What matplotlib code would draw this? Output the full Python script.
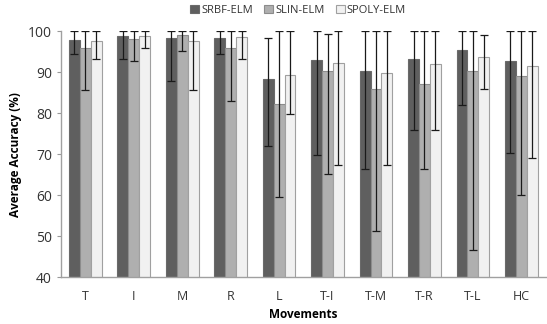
import matplotlib
matplotlib.use("Agg")
import matplotlib.pyplot as plt
import numpy as np

categories = ["T", "I", "M", "R", "L", "T-I", "T-M", "T-R", "T-L", "HC"]
series = ["SRBF-ELM", "SLIN-ELM", "SPOLY-ELM"]

srbf_mean = [97.9, 98.8, 98.4, 98.2, 88.4, 92.9, 90.2, 93.1, 95.3, 92.6]
srbf_low  = [94.3, 93.3, 87.8, 94.3, 71.9, 69.9, 66.5, 75.8, 82.1, 70.2]
srbf_high = [100, 100, 100, 100, 98.3, 100, 100, 100, 100, 100]

slin_mean = [95.9, 98.1, 99.1, 95.9, 82.3, 90.2, 85.9, 87.0, 90.4, 89.1]
slin_low  = [85.7, 92.6, 95.1, 82.9, 59.5, 65.1, 51.2, 66.5, 46.7, 60.0]
slin_high = [100, 100, 100, 100, 100, 99.2, 100, 100, 100, 100]

spoly_mean = [97.5, 98.8, 97.6, 98.5, 89.4, 92.2, 89.8, 91.9, 93.7, 91.5]
spoly_low  = [93.3, 96.0, 85.7, 93.3, 79.7, 67.3, 67.3, 75.8, 85.8, 69.2]
spoly_high = [100, 100, 100, 100, 100, 100, 100, 100, 99.1, 100]

means = [srbf_mean, slin_mean, spoly_mean]
lows = [srbf_low, slin_low, spoly_low]
highs = [srbf_high, slin_high, spoly_high]
colors = ["#5f5f5f", "#afafaf", "#f1f1f1"]
edges = ["#6a6a6a", "#8c8c8c", "#a0a0a0"]

plt.rcParams['font.family'] = ['Open Sans', 'DejaVu Sans']

fig = plt.figure(figsize=(5.47, 3.24), dpi=100)
ax = fig.add_axes([0.1115, 0.144, 0.886, 0.760])

x = np.arange(len(categories))
w = 0.225
for i in range(3):
    m = np.array(means[i]); lo = np.array(lows[i]); hi = np.array(highs[i])
    yerr = np.vstack([m - lo, hi - m])
    ax.bar(x + (i - 1) * w, m, width=w, color=colors[i], edgecolor=edges[i],
           linewidth=0.8, label=series[i], bottom=0, zorder=2)
    ax.errorbar(x + (i - 1) * w, m, yerr=yerr, fmt='none', ecolor="#1a1a1a",
                elinewidth=0.9, capsize=3, capthick=0.9, zorder=3)

ax.set_ylim(40, 100)
ax.set_xlim(-0.5, len(categories) - 0.5)
ax.set_xticks(x)
ax.set_xticklabels(categories, fontsize=9, color="#333333")
ax.set_yticks([40, 50, 60, 70, 80, 90, 100])
ax.tick_params(axis='y', labelsize=10, colors="#333333", length=3, color="#999999")
ax.tick_params(axis='x', length=0, pad=9)
for s in ["top", "right"]:
    ax.spines[s].set_visible(False)
for s in ["left", "bottom"]:
    ax.spines[s].set_color("#a0a0a0")
    ax.spines[s].set_linewidth(1.0)

ax.set_ylabel("Average Accuracy (%)", fontsize=8.5, fontweight="bold", labelpad=4)
ax.set_xlabel("Movements", fontsize=8.5, fontweight="bold", labelpad=4)

fig.legend(loc="center", bbox_to_anchor=(0.545, 0.968), ncol=3, frameon=False,
           fontsize=8, handlelength=0.8, handleheight=0.8, handletextpad=0.2,
           columnspacing=1.0, labelcolor="#333333")

fig.savefig("out.png", dpi=100)
